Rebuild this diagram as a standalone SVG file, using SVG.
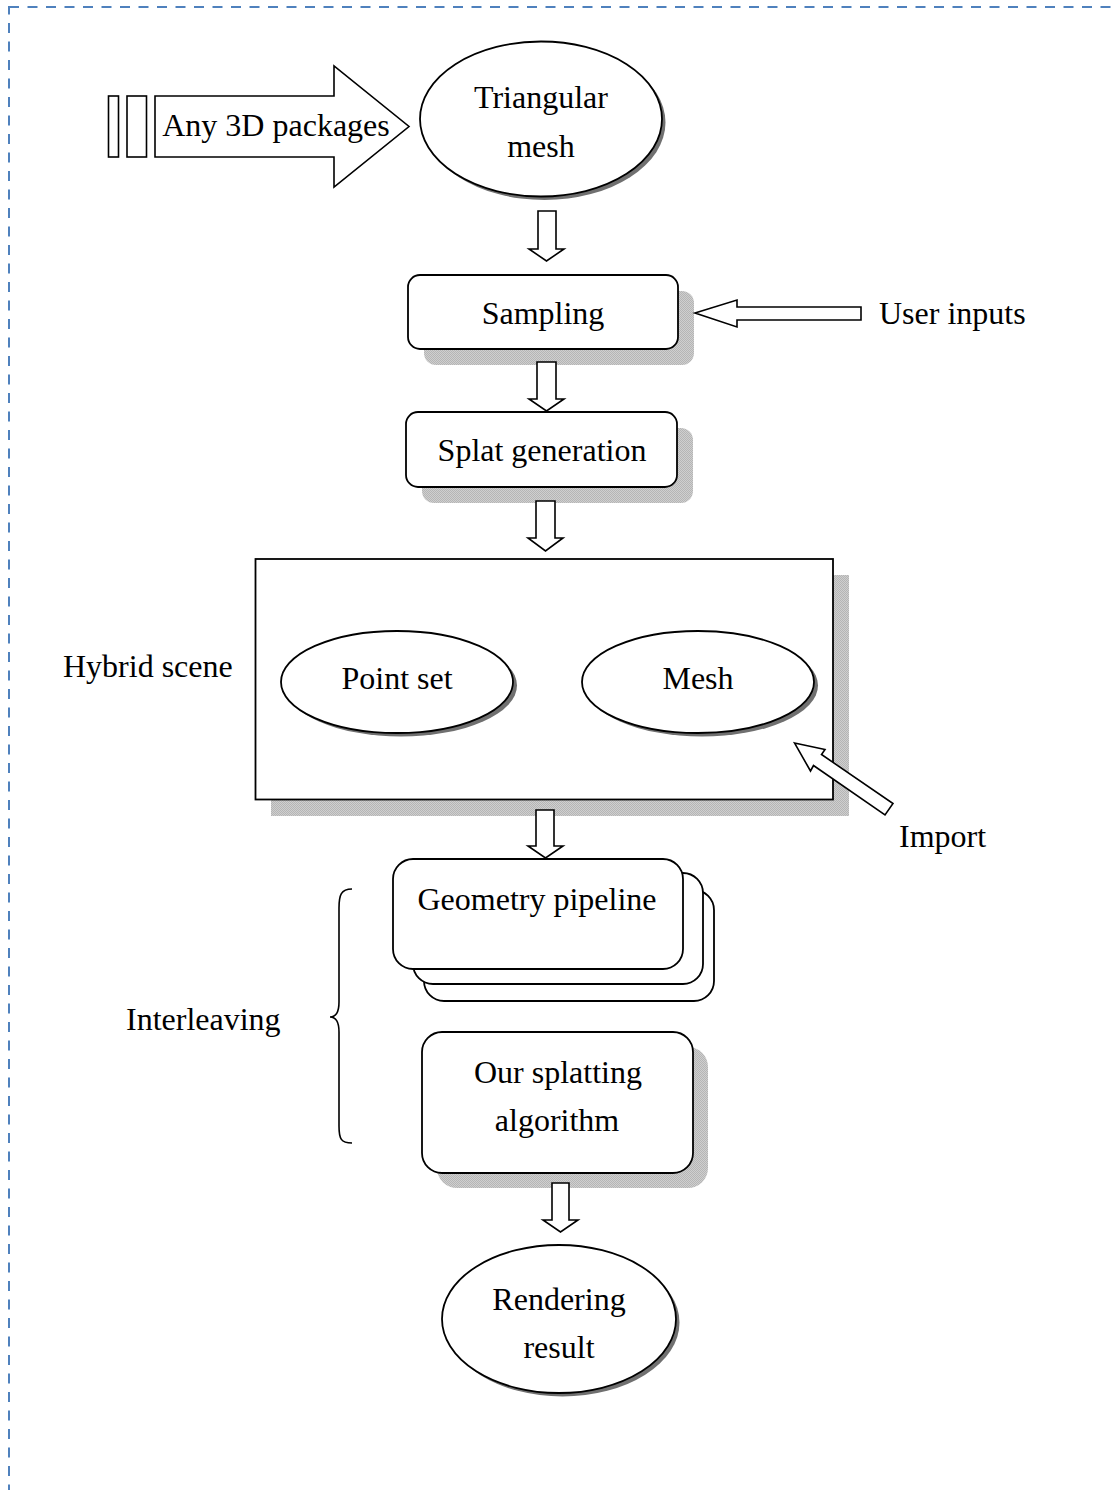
<svg xmlns="http://www.w3.org/2000/svg" width="1115" height="1490" viewBox="0 0 1115 1490">
<style>
text{font-family:"Liberation Serif","Times New Roman",serif;font-size:32px;fill:#000}
.c{text-anchor:middle}
.shape{fill:#fff;stroke:#000;stroke-width:1.8}
.eshadow{fill:#707070}
.arrow{fill:#fff;stroke:#000;stroke-width:1.6;stroke-linejoin:miter}
</style>
<defs>
<pattern id="dither" width="2" height="2" patternUnits="userSpaceOnUse">
<rect width="2" height="2" fill="#cfcfcf"/>
<rect width="1" height="1" fill="#b5b5b5"/>
<rect x="1" y="1" width="1" height="1" fill="#b5b5b5"/>
</pattern>
</defs>
<rect width="1115" height="1490" fill="#fff"/>
<rect x="9" y="7" width="1130" height="1510" fill="none" stroke="#4f81bd" stroke-width="2" stroke-dasharray="10 8.5"/>

<g id="any-3d-packages">
<rect class="arrow" x="108.5" y="96" width="10" height="61"/>
<rect class="arrow" x="127" y="96" width="19.5" height="61"/>
<polygon class="arrow" points="155,96 334,96 334,66 409,126.5 334,187 334,157 155,157"/>
<text class="c" x="276" y="136">Any 3D packages</text>
</g>

<g id="triangular-mesh">
<ellipse class="eshadow" cx="544.5" cy="122.5" rx="121" ry="77.5"/>
<ellipse class="shape" cx="541" cy="119" rx="121" ry="77.5"/>
<text class="c" x="541" y="108">Triangular</text>
<text class="c" x="541" y="157">mesh</text>
</g>

<g id="sampling">
<rect x="424" y="291" width="270" height="74" rx="12" fill="url(#dither)"/>
<rect class="shape" x="408" y="275" width="270" height="74" rx="12"/>
<text class="c" x="543" y="324">Sampling</text>
</g>

<g id="user-inputs">
<text x="879" y="324">User inputs</text>
</g>

<g id="splat-generation">
<rect x="422" y="428" width="271" height="75" rx="12" fill="url(#dither)"/>
<rect class="shape" x="406" y="412" width="271" height="75" rx="12"/>
<text class="c" x="542" y="461">Splat generation</text>
</g>

<g id="hybrid-scene">
<rect x="271" y="575" width="578" height="241" fill="url(#dither)"/>
<rect class="shape" x="255.5" y="559" width="577.5" height="240.5"/>
<text x="63" y="677">Hybrid scene</text>
</g>

<g id="point-set">
<ellipse class="eshadow" cx="401" cy="685.5" rx="116" ry="51"/>
<ellipse class="shape" cx="397" cy="682" rx="116" ry="51"/>
<text class="c" x="397" y="689">Point set</text>
</g>

<g id="mesh">
<ellipse class="eshadow" cx="702" cy="685.5" rx="116" ry="51"/>
<ellipse class="shape" cx="698" cy="682" rx="116" ry="51"/>
<text class="c" x="698" y="689">Mesh</text>
</g>

<g id="import">
<text x="899" y="847">Import</text>
</g>

<g id="geometry-pipeline">
<rect class="shape" x="424" y="890" width="290" height="111" rx="20"/>
<rect class="shape" x="413" y="873" width="290" height="111" rx="20"/>
<rect class="shape" x="393" y="859" width="290" height="110" rx="20"/>
<text class="c" x="537" y="910">Geometry pipeline</text>
</g>

<g id="interleaving">
<path d="M352,889 C341,889 339,895 339,908 L339,1002 C339,1013 336,1017 330,1017 C336,1017 339,1021 339,1032 L339,1126 C339,1139 341,1143 352,1143" fill="none" stroke="#000" stroke-width="1.6"/>
<text x="126" y="1030">Interleaving</text>
</g>

<g id="our-splatting">
<rect x="437" y="1047" width="271" height="141" rx="20" fill="url(#dither)"/>
<rect class="shape" x="422" y="1032" width="271" height="141" rx="20"/>
<text class="c" x="558" y="1083">Our splatting</text>
<text class="c" x="557" y="1131">algorithm</text>
</g>

<g id="rendering-result">
<ellipse class="eshadow" cx="562.5" cy="1322.5" rx="117" ry="74"/>
<ellipse class="shape" cx="559" cy="1319" rx="117" ry="74"/>
<text class="c" x="559" y="1310">Rendering</text>
<text class="c" x="559" y="1358">result</text>
</g>

<g id="connectors">
<polygon class="arrow" points="538,211 556,211 556,249 564,249 546.5,261 529,249 538,249"/>
<polygon class="arrow" points="537,362 556,362 556,399 564,399 546.5,411 529,399 537,399"/>
<polygon class="arrow" points="536,501 555,501 555,538 563,538 545.5,551 528,538 536,538"/>
<polygon class="arrow" points="536,810 554,810 554,846 563,846 545.5,858 528,846 536,846"/>
<polygon class="arrow" points="552,1183 569,1183 569,1220 578,1220 560.5,1232 543,1220 552,1220"/>
<polygon class="arrow" points="695,313 737,300 737,307 861,307 861,320 737,320 737,327"/>
<polygon class="arrow" points="794.5,743 825,749.5 821.5,754.5 893,803.5 885,815 813.5,765.5 810.5,771"/>
</g>
</svg>
